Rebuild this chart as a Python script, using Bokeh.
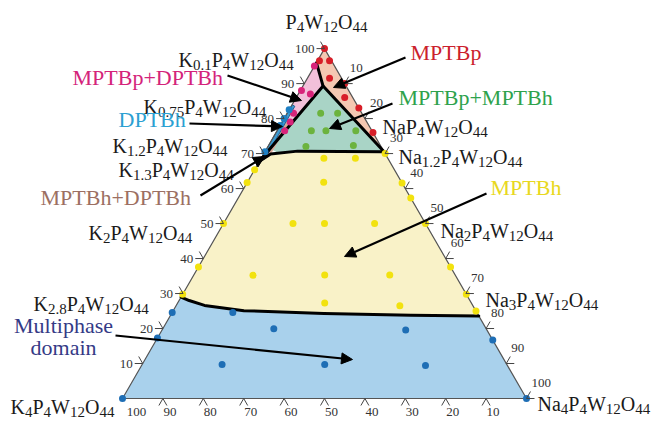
import re
import numpy as np
from bokeh.plotting import figure
from bokeh.models import Range1d, Arrow, NormalHead
from bokeh.embed import file_html
from bokeh.resources import INLINE
from bokeh.core.properties import value

# ---------------- data (ternary: P = % P4W12O44, Na = % Na4P4W12O44) ----------------
red_P = [100, 96.5, 96.5, 91.5, 90, 86, 83, 76]
red_Na = [0, 0.5, 3, 5.5, 10, 12, 17, 24]

pink_P = [95, 88, 87, 81.5, 79, 76.5]
pink_Na = [0, 0.3, 3, 1.6, 2.0, 1.9]

dptbh_P = [82.5, 80, 78, 70.5]
dptbh_Na = [0, 0, 0, 0]

green_P = [81.5, 81.5, 76.5, 76.5, 76.5, 72, 72.3]
green_Na = [8.3, 12.5, 8.5, 12.1, 19.5, 9.4, 21]

yellow_P = [68.7, 68.7, 70, 65.4, 61.7, 61.8, 61.6, 57.3, 50, 50, 50, 50, 50,
            37.6, 35.2, 35.3, 35.3, 37.6, 29.8, 27.3, 26.5, 29.8, 25]
yellow_Na = [15.5, 23.3, 30, 0, 0, 18.9, 38.4, 42.7, 0, 17.2, 25, 37.4, 50,
             0, 14.7, 32.4, 48.5, 62.4, 0, 36.4, 55.4, 70.2, 75]

multi_P = [0, 0, 24.6, 24.6, 19.9, 19.6, 17.3, 16.7, 9.7, 9.7, 9.4]
multi_Na = [0, 100, 0, 15, 27.5, 60.3, 0, 83.3, 19.8, 45.2, 70.3]

# phase boundaries
upper_P = [67.8, 69.9, 70.7, 70.5]
upper_Na = [0, 1.7, 8, 29.5]
lower_P = [29, 28, 26.6, 25.1, 24.3, 23.8, 23.6]
lower_Na = [0, 2.5, 7, 17.5, 37.7, 59.5, 76.4]
red_P_poly = [100, 96, 89.3, 70.5]
red_Na_poly = [0, 0, 5, 29.5]
green_P_poly = [89.3, 71.4, 70.4, 70.7, 70.5]
green_Na_poly = [5, 0.9, 3, 8, 29.5]
pink_P_poly = [96, 89.3, 71.4, 67.8]
pink_Na_poly = [0, 5, 0.9, 0]
strip_P_poly = [84, 83.5, 68.5, 67.8]
strip_Na_poly = [0, 0.9, 1.0, 0]
brown_P_poly = [79.5, 78, 69, 68.5]
brown_Na_poly = [1.0, 1.9, 1.8, 1.0]
line1_P = [96, 89.3, 70.5]
line1_Na = [0, 5, 29.5]
line2_P = [89.3, 67.8]
line2_Na = [5, 0]

left_ticks = [10, 20, 30, 40, 50, 60, 70, 80, 90, 100]
right_ticks = [10, 20, 30, 40, 50, 60, 70, 80, 90, 100]
bottom_ticks = [100, 90, 80, 70, 60, 50, 40, 30, 20, 10]

# ---------------- helpers ----------------
S3 = np.sqrt(3) / 2
PX = 404.0  # pixels per data unit


def cart(P, Na):
    P = np.asarray(P, float) / 100.0
    Na = np.asarray(Na, float) / 100.0
    return list(Na + P / 2), list(P * S3)


p = figure(width=652, height=422, x_range=Range1d(-0.3020, 1.3119),
           y_range=Range1d(-0.0594, 0.9851), output_backend="svg",
           toolbar_location=None, min_border=0,
           x_axis_location=None, y_axis_location=None)
p.grid.visible = False
p.outline_line_color = None

SERIF = value("Liberation Serif")

# regions
def patch(Ps, Ns, color):
    x, y = cart(Ps, Ns)
    p.patch(x, y, fill_color=color, line_color=None)

patch([0, 0] + lower_P[::-1], [0, 100] + lower_Na[::-1], "#a9d1ec")
patch(upper_P + lower_P[::-1], upper_Na + lower_Na[::-1], "#f9f2c8")
patch(red_P_poly, red_Na_poly, "#f5c8b2")
patch(green_P_poly, green_Na_poly, "#a9d4c6")
patch(pink_P_poly, pink_Na_poly, "#f2c0da")
patch(brown_P_poly, brown_Na_poly, "#d9a898")
sx, sy = cart(strip_P_poly, strip_Na_poly)
p.patch(sx, sy, fill_color="#3d9ad1", line_color="#1f5f8f", line_width=1)

# triangle outline
tx, ty = cart([0, 0, 100, 0], [0, 100, 0, 0])
p.line(tx, ty, line_color="#555555", line_width=1.2)

# boundaries
for Ps, Ns in [(line1_P, line1_Na), (line2_P, line2_Na),
               (upper_P, upper_Na), (lower_P, lower_Na)]:
    x, y = cart(Ps, Ns)
    p.line(x, y, line_color="black", line_width=3, line_join="round", line_cap="round")

# points
for Ps, Ns, c in [(red_P, red_Na, "#d81e28"), (pink_P, pink_Na, "#d8247a"),
                  (dptbh_P, dptbh_Na, "#1f80c4"), (green_P, green_Na, "#6cb33e"),
                  (yellow_P, yellow_Na, "#f2e20f"), (multi_P, multi_Na, "#1e6eb5")]:
    x, y = cart(Ps, Ns)
    p.scatter(x, y, size=7, fill_color=c, line_color=None)

# ticks
TICKFONT = "13px"
tk_x0, tk_y0, tk_x1, tk_y1 = [], [], [], []
lab_x, lab_y, lab_t = [], [], []
for T in left_ticks:
    x, y = cart([T], [0])
    x, y = x[0], y[0]
    tk_x0 += [x, x]; tk_y0 += [y, y]
    tk_x1 += [x - 8 / PX, x - 4 / PX]; tk_y1 += [y, y + 7 / PX]
    lab_x.append(x - 10 / PX); lab_y.append(y); lab_t.append(str(T))
p.text(lab_x, lab_y, text=lab_t, text_align="right", text_baseline="middle",
       text_font=SERIF, text_font_size=TICKFONT, text_color="#333333")

lab_x, lab_y, lab_t = [], [], []
for R in right_ticks:
    x, y = cart([100 - R], [R])
    x, y = x[0], y[0]
    tk_x0 += [x, x]; tk_y0 += [y, y]
    tk_x1 += [x + 8 / PX, x + 4 / PX]; tk_y1 += [y, y + 7 / PX]
    lab_x.append(x + 5 / PX); lab_y.append(y + 16 / PX); lab_t.append(str(R))
p.text(lab_x, lab_y, text=lab_t, text_align="left", text_baseline="middle",
       text_font=SERIF, text_font_size=TICKFONT, text_color="#333333")

lab_x, lab_y, lab_t = [], [], []
for L in bottom_ticks:
    x, y = cart([0], [100 - L])
    x, y = x[0], y[0]
    if L != 100:
        tk_x0 += [x, x]; tk_y0 += [y, y]
        tk_x1 += [x - 4 / PX, x + 4 / PX]; tk_y1 += [y - 7 / PX, y - 7 / PX]
    lab_x.append(x + (14 if L == 100 else 7) / PX); lab_y.append(y - 13 / PX); lab_t.append(str(L))
p.text(lab_x, lab_y, text=lab_t, text_align="center", text_baseline="middle",
       text_font=SERIF, text_font_size=TICKFONT, text_color="#333333")
p.segment(tk_x0, tk_y0, tk_x1, tk_y1, line_color="#444444", line_width=1)

# ---------------- formula labels with subscripts ----------------
WID = {'K': 722, 'P': 556, 'W': 944, 'O': 722, 'N': 722, 'a': 444, '.': 250}
for d in "0123456789":
    WID[d] = 500
MAIN, SUB = 20, 15

formulas = [
    ("P_{4}W_{12}O_{44}", 0.4035, 0.9480),
    ("K_{0.1}P_{4}W_{12}O_{44}", 0.1386, 0.8540),
    ("K_{0.75}P_{4}W_{12}O_{44}", 0.0520, 0.7400),
    ("K_{1.2}P_{4}W_{12}O_{44}", -0.0248, 0.6430),
    ("K_{1.3}P_{4}W_{12}O_{44}", -0.0099, 0.5840),
    ("K_{2}P_{4}W_{12}O_{44}", -0.0842, 0.4270),
    ("K_{2.8}P_{4}W_{12}O_{44}", -0.2203, 0.2520),
    ("K_{4}P_{4}W_{12}O_{44}", -0.2772, -0.0030),
    ("NaP_{4}W_{12}O_{44}", 0.6436, 0.6900),
    ("Na_{1.2}P_{4}W_{12}O_{44}", 0.6832, 0.6160),
    ("Na_{2}P_{4}W_{12}O_{44}", 0.7871, 0.4330),
    ("Na_{3}P_{4}W_{12}O_{44}", 0.8985, 0.2600),
    ("Na_{4}P_{4}W_{12}O_{44}", 1.0272, 0.0045),
]
mx, my, mt, sxs, sys_, sts = [], [], [], [], [], []
for f, x0, yc in formulas:
    base = yc - 7 / PX
    off = 0.0
    for main, sub in re.findall(r"([A-Za-z]+)(?:_\{([^}]*)\})?", f):
        mx.append(x0 + off / PX); my.append(base); mt.append(main)
        off += sum(WID[c] for c in main) / 1000 * MAIN
        if sub:
            sxs.append(x0 + off / PX); sys_.append(base - 5 / PX); sts.append(sub)
            off += sum(WID[c] for c in sub) / 1000 * SUB
p.text(mx, my, text=mt, text_align="left", text_baseline="alphabetic",
       text_font=SERIF, text_font_size=f"{MAIN}px", text_color="#1a1a1a")
p.text(sxs, sys_, text=sts, text_align="left", text_baseline="alphabetic",
       text_font=SERIF, text_font_size=f"{SUB}px", text_color="#1a1a1a")

# phase labels
phase = [
    ("MPTBp", 0.7129, 0.8564, "#cc1f2d", "left"),
    ("MPTBp+DPTBh", -0.1238, 0.7946, "#d4237a", "left"),
    ("DPTBh", -0.0099, 0.6906, "#2ba0d2", "left"),
    ("MPTBh+DPTBh", -0.2030, 0.4975, "#9c6f62", "left"),
    ("MPTBp+MPTBh", 0.6832, 0.7450, "#2ea24c", "left"),
    ("MPTBh", 0.9109, 0.5223, "#e8d820", "left"),
    ("Multiphase", -0.1460, 0.1807, "#343a86", "center"),
    ("domain", -0.1460, 0.1262, "#343a86", "center"),
]
for t, x, y, c, a in phase:
    p.text([x], [y], text=[t], text_align=a, text_baseline="middle",
           text_font=SERIF, text_font_size="22px", text_color=c)

# arrows
arrows = [
    (0.7005, 0.8441, 0.5223, 0.7698),
    (0.6683, 0.7302, 0.5124, 0.6683),
    (0.9010, 0.5074, 0.5495, 0.3515),
    (-0.0173, 0.1559, 0.5693, 0.0965),
    (0.2599, 0.7995, 0.4431, 0.7376),
    (0.1658, 0.6807, 0.3960, 0.6733),
    (0.1930, 0.5025, 0.3515, 0.5990),
]
for x0, y0, x1, y1 in arrows:
    p.add_layout(Arrow(end=NormalHead(size=11, fill_color="black", line_color="black"),
                       x_start=x0, y_start=y0, x_end=x1, y_end=y1,
                       line_color="black", line_width=2.2))

open("out.html", "w").write(file_html(p, INLINE))
